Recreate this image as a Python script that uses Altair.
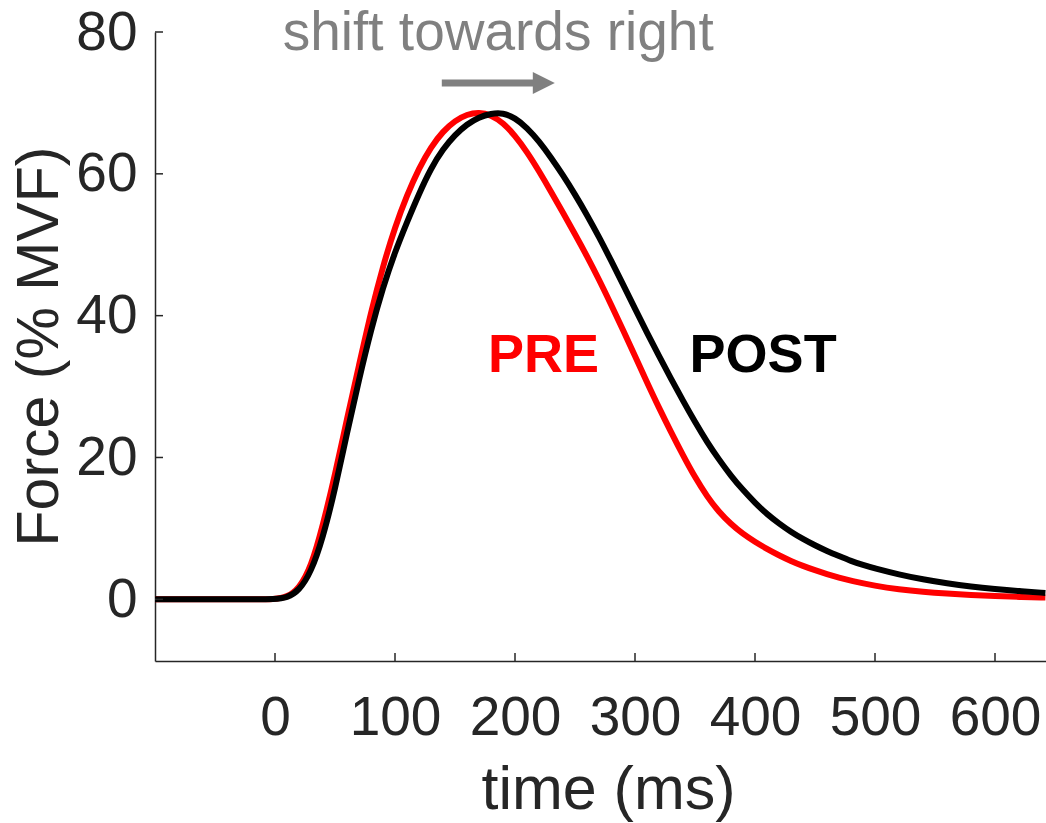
import altair as alt
import pandas as pd

# Force traces (% MVF) against time (ms)
pre_time = [-100, -50, -20, 0, 10, 20, 30, 40, 50, 60, 70, 80, 90, 100, 110, 120, 130,
            140, 150, 160, 170, 180, 190, 200, 210, 220, 230, 240, 250, 260, 270, 280,
            290, 300, 310, 320, 330, 340, 350, 360, 370, 380, 390, 400, 410, 420, 430,
            440, 450, 460, 470, 480, 500, 520, 540, 560, 580, 600, 620, 642]
pre_force = [0, 0, 0, 0, 0.3, 1.5, 4.5, 10.5, 17.5, 25.5, 33.0, 40.5, 47.0, 52.5, 57.0,
             60.8, 63.8, 66.0, 67.5, 68.4, 68.7, 68.3, 67.2, 65.4, 63.1, 60.4, 57.5, 54.5,
             51.5, 48.4, 45.1, 41.6, 38.0, 34.3, 30.6, 27.0, 23.6, 20.3, 17.2, 14.5, 12.3,
             10.6, 9.2, 8.1, 7.1, 6.2, 5.4, 4.7, 4.1, 3.55, 3.05, 2.6, 1.9, 1.4, 1.05, 0.8,
             0.6, 0.45, 0.33, 0.25]

post_time = [-100, -50, -20, 0, 10, 20, 30, 40, 50, 60, 70, 80, 90, 100, 110, 120, 130,
             140, 150, 160, 170, 180, 190, 200, 210, 220, 230, 240, 250, 260, 270, 280,
             290, 300, 310, 320, 330, 340, 350, 360, 370, 380, 390, 400, 410, 420, 430,
             440, 450, 460, 470, 480, 490, 500, 520, 540, 560, 580, 600, 620, 642]
post_force = [0, 0, 0, 0, 0.2, 1.2, 3.8, 8.7, 15.5, 23.5, 31.0, 38.0, 44.0, 49.0, 53.2,
              57.2, 60.8, 63.5, 65.5, 67.0, 68.0, 68.5, 68.6, 67.9, 66.5, 64.6, 62.3, 59.8,
              57.1, 54.2, 51.1, 47.8, 44.4, 41.0, 37.6, 34.3, 31.1, 28.0, 25.0, 22.2, 19.7,
              17.4, 15.4, 13.6, 12.0, 10.7, 9.5, 8.5, 7.6, 6.8, 6.1, 5.4, 4.85, 4.35, 3.5,
              2.8, 2.25, 1.8, 1.45, 1.15, 0.9]

x_ticks = [0, 100, 200, 300, 400, 500, 600]
y_ticks = [0, 20, 40, 60, 80]
x_domain = [-100, 642.5]
y_domain = [-8.7, 80]

# Annotation texts and the arrow between them
labels = ["PRE", "POST"]
label_time = [177.5, 345.5]
label_force = [32.0, 32.0]
label_color = ["#FF0000", "#000000"]
note_text = "shift towards right"
note_time = 186
note_force = 77.4
arrow_time = [139, 226]
arrow_head_time = 224
arrow_force = 72.8

FONT = "Liberation Sans"
INK = "#262626"
GRAY = "#808080"
W, H = 891, 629

pre_df = pd.DataFrame({"time": pre_time, "force": pre_force})
post_df = pd.DataFrame({"time": post_time, "force": post_force})

xs = alt.Scale(domain=x_domain, nice=False, zero=False)
ys = alt.Scale(domain=y_domain, nice=False, zero=False)

x_axis = alt.Axis(values=x_ticks, title="time (ms)", labelFontSize=55, labelPadding=30,
                  titleFontSize=61, titleBaseline="alphabetic", titleY=147, titleX=453,
                  labelFlush=False, labelOverlap=False)
y_axis = alt.Axis(values=y_ticks, title="Force (% MVF)", labelFontSize=55, labelPadding=18,
                  titleFontSize=59, titleBaseline="alphabetic", titleX=-98, titleY=314,
                  labelFlush=False, labelOverlap=False)

X = alt.X("time:Q", scale=xs, axis=x_axis)
Y = alt.Y("force:Q", scale=ys, axis=y_axis)

pre_line = alt.Chart(pre_df).mark_line(
    color="#FF0000", strokeWidth=6, interpolate="basis", clip=True
).encode(x=X, y=Y)

post_line = alt.Chart(post_df).mark_line(
    color="#000000", strokeWidth=6, interpolate="basis", clip=True
).encode(x=X, y=Y)

# inward tick marks
xt = alt.Chart(pd.DataFrame({"time": x_ticks})).mark_rule(color=INK, strokeWidth=1.5).encode(
    x=X, y=alt.value(H), y2=alt.value(H - 8))
yt = alt.Chart(pd.DataFrame({"force": y_ticks})).mark_rule(color=INK, strokeWidth=1.5).encode(
    y=Y, x=alt.value(0), x2=alt.value(8))

lbl_df = pd.DataFrame({"label": labels, "time": label_time, "force": label_force,
                       "color": label_color})
lbl = alt.Chart(lbl_df).mark_text(
    font=FONT, fontSize=54, fontWeight="bold", align="left", baseline="alphabetic"
).encode(x=X, y=Y, text="label:N", color=alt.Color("color:N", scale=None))

note = alt.Chart(pd.DataFrame({"time": [note_time], "force": [note_force],
                               "t": [note_text]})).mark_text(
    font=FONT, fontSize=55, color=GRAY, align="center", baseline="alphabetic"
).encode(x=X, y=Y, text="t:N")

shaft = alt.Chart(pd.DataFrame({"time": [arrow_time[0]], "time2": [arrow_time[1]],
                                "force": [arrow_force]})).mark_rule(
    color=GRAY, strokeWidth=7).encode(x=X, x2="time2:Q", y=Y)

head = alt.Chart(pd.DataFrame({"time": [arrow_head_time], "force": [arrow_force]})).mark_point(
    shape="M-1,-1L1,0L-1,1Z", size=484, filled=True, color=GRAY, opacity=1, strokeWidth=0
).encode(x=X, y=Y)

chart = alt.layer(pre_line, post_line, xt, yt, lbl, note, shaft, head).properties(
    width=W, height=H,
    autosize=alt.AutoSizeParams(type="none"),
    padding={"left": 155, "top": 32, "right": 0, "bottom": 162},
    background="white",
).configure_view(stroke=None).configure_axis(
    labelFont=FONT, titleFont=FONT, labelColor=INK, titleColor=INK,
    titleFontWeight="normal", domainColor=INK, domainWidth=1.5,
    ticks=False, tickSize=0, grid=False,
)

chart.save("out.html", embed_options={"renderer": "svg", "actions": False})
